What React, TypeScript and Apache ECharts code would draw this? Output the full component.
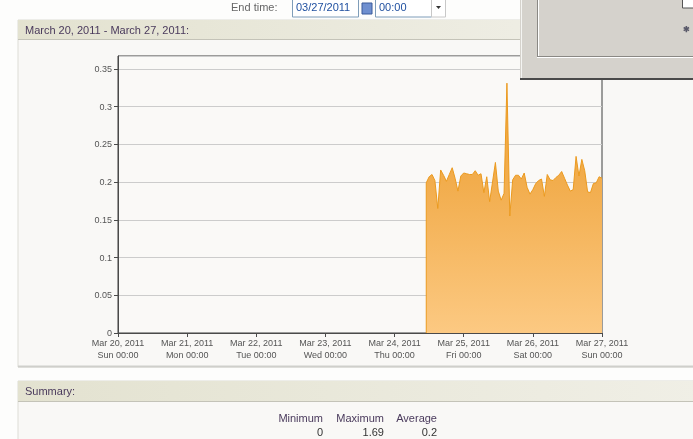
import React, { useEffect, useRef } from "react";
import * as echarts from "echarts";

const headerTitle = "March 20, 2011 - March 27, 2011:";
const summaryTitle = "Summary:";
const statNames = ["Minimum", "Maximum", "Average"];
const statValues = ["0", "1.69", "0.2"];

const xTickLabels = [
  "Mar 20, 2011\nSun 00:00",
  "Mar 21, 2011\nMon 00:00",
  "Mar 22, 2011\nTue 00:00",
  "Mar 23, 2011\nWed 00:00",
  "Mar 24, 2011\nThu 00:00",
  "Mar 25, 2011\nFri 00:00",
  "Mar 26, 2011\nSat 00:00",
  "Mar 27, 2011\nSun 00:00",
];

// hours since Mar 20, 2011 00:00
const hours = [
  107, 107, 108, 109, 110, 111, 112, 113, 114, 115, 116,
  117, 118, 119, 120, 121, 122, 123, 124, 125, 126,
  127, 128, 129, 130, 131, 132, 133, 134, 135, 136,
  137, 138, 139, 140, 141, 142, 143, 144, 145, 146,
  147, 148, 149, 150, 151, 152, 153, 154, 155, 156,
  157, 158, 159, 160, 161, 162, 163, 164, 165, 166, 167, 168,
];
const values = [
  0, 0.199, 0.207, 0.21, 0.202, 0.165, 0.216, 0.209, 0.201, 0.21, 0.219,
  0.205, 0.188, 0.208, 0.212, 0.211, 0.21, 0.21, 0.215, 0.209, 0.211,
  0.186, 0.207, 0.174, 0.2, 0.226, 0.188, 0.176, 0.185, 0.331, 0.155,
  0.203, 0.209, 0.209, 0.204, 0.212, 0.193, 0.184, 0.19, 0.198, 0.202,
  0.204, 0.181, 0.21, 0.203, 0.202, 0.206, 0.209, 0.214, 0.205, 0.196,
  0.188, 0.19, 0.234, 0.208, 0.23, 0.215, 0.187, 0.186, 0.198, 0.199, 0.207, 0.205,
];

const FONT = "Liberation Sans, Arial, sans-serif";

export default function App() {
  const ref = useRef<HTMLDivElement>(null);
  useEffect(() => {
    if (!ref.current) return;
    const chart = echarts.init(ref.current, null, { renderer: "svg" });
    const data = hours.map((h, i) => [h, values[i]]);
    const purple = "#4a3a5c";
    const statRight = [323, 384, 437];
    const graphics: any[] = [
      { type: "rect", z: -20, shape: { x: 0, y: 0, width: 693, height: 439 }, style: { fill: "#fdfdfc" } },
      { type: "rect", z: -19, shape: { x: 18, y: 20, width: 680, height: 347 }, style: { fill: "#f9f8f6", stroke: "#dddcd6", lineWidth: 1 } },
      {
        type: "rect", z: -18, shape: { x: 18, y: 20, width: 680, height: 19 },
        style: {
          fill: new echarts.graphic.LinearGradient(0, 0, 1, 0, [
            { offset: 0, color: "#e3e2d0" },
            { offset: 1, color: "#f2f1ea" },
          ]),
        },
      },
      { type: "line", z: -17, shape: { x1: 18, y1: 39.5, x2: 693, y2: 39.5 }, style: { stroke: "#c4c3b8", lineWidth: 1 } },
      { type: "line", z: -17, shape: { x1: 18, y1: 366.5, x2: 693, y2: 366.5 }, style: { stroke: "#cfcfcb", lineWidth: 2 } },
      { type: "text", z: -16, x: 25, y: 30, style: { text: headerTitle, font: `11px ${FONT}`, fill: purple, verticalAlign: "middle" } },
      { type: "rect", z: -19, shape: { x: 18, y: 381, width: 680, height: 60 }, style: { fill: "#f9f8f6", stroke: "#dddcd6", lineWidth: 1 } },
      {
        type: "rect", z: -18, shape: { x: 18, y: 381, width: 680, height: 20 },
        style: {
          fill: new echarts.graphic.LinearGradient(0, 0, 1, 0, [
            { offset: 0, color: "#e3e2d0" },
            { offset: 1, color: "#f0efe6" },
          ]),
        },
      },
      { type: "line", z: -17, shape: { x1: 18, y1: 401.5, x2: 693, y2: 401.5 }, style: { stroke: "#c4c3b8", lineWidth: 1 } },
      { type: "text", z: -16, x: 25, y: 391, style: { text: summaryTitle, font: `11px ${FONT}`, fill: purple, verticalAlign: "middle" } },
      ...statNames.map((s, i) => ({
        type: "text", z: -16, x: statRight[i], y: 418,
        style: { text: s, font: `11px ${FONT}`, fill: purple, align: "right", verticalAlign: "middle" },
      })),
      ...statValues.map((s, i) => ({
        type: "text", z: -16, x: statRight[i], y: 432,
        style: { text: s, font: `11px ${FONT}`, fill: "#333", align: "right", verticalAlign: "middle" },
      })),
      { type: "text", z: -16, x: 231, y: 7, style: { text: "End time:", font: `11px ${FONT}`, fill: "#666", verticalAlign: "middle" } },
      { type: "rect", z: -16, shape: { x: 292.5, y: -1, width: 66, height: 18 }, style: { fill: "#fff", stroke: "#7f9db9", lineWidth: 1 } },
      { type: "text", z: -15, x: 296, y: 7, style: { text: "03/27/2011", font: `11px ${FONT}`, fill: "#2050a0", verticalAlign: "middle" } },
      { type: "rect", z: -16, shape: { x: 362, y: 3, width: 10, height: 11 }, style: { fill: "#6f8fcf", stroke: "#3a5a9a", lineWidth: 1 } },
      { type: "rect", z: -16, shape: { x: 375.5, y: -1, width: 56, height: 18 }, style: { fill: "#fff", stroke: "#7f9db9", lineWidth: 1 } },
      { type: "text", z: -15, x: 379, y: 7, style: { text: "00:00", font: `11px ${FONT}`, fill: "#2050a0", verticalAlign: "middle" } },
      { type: "rect", z: -16, shape: { x: 431.5, y: -1, width: 14, height: 18 }, style: { fill: "#fff", stroke: "#c8c8c8", lineWidth: 1 } },
      { type: "polygon", z: -15, shape: { points: [[436, 6], [441, 6], [438.5, 9]] }, style: { fill: "#333" } },
      { type: "rect", z: 100, shape: { x: 520, y: -1, width: 174, height: 80 }, style: { fill: "#d5d2cc" } },
      { type: "line", z: 101, shape: { x1: 521.5, y1: 0, x2: 521.5, y2: 78 }, style: { stroke: "#f4f4f2", lineWidth: 1 } },
      { type: "line", z: 101, shape: { x1: 520, y1: 79, x2: 694, y2: 79 }, style: { stroke: "#4a4a4a", lineWidth: 2 } },
      { type: "line", z: 101, shape: { x1: 537.5, y1: 0, x2: 537.5, y2: 57 }, style: { stroke: "#8a8884", lineWidth: 1 } },
      { type: "line", z: 101, shape: { x1: 538.5, y1: 0, x2: 538.5, y2: 57 }, style: { stroke: "#ffffff", lineWidth: 1 } },
      { type: "line", z: 101, shape: { x1: 537, y1: 56.5, x2: 694, y2: 56.5 }, style: { stroke: "#8a8884", lineWidth: 1 } },
      { type: "line", z: 101, shape: { x1: 537, y1: 57.5, x2: 694, y2: 57.5 }, style: { stroke: "#ffffff", lineWidth: 1 } },
      { type: "rect", z: 101, shape: { x: 682.5, y: -1, width: 12, height: 9 }, style: { fill: "#ffffff", stroke: "#555", lineWidth: 1 } },
      { type: "text", z: 101, x: 686, y: 29, style: { text: "✱", font: `bold 8px ${FONT}`, fill: "#5a5a6a", align: "center", verticalAlign: "middle" } },
    ];

    chart.setOption({
      animation: false,
      backgroundColor: "transparent",
      graphic: graphics,
      grid: {
        left: 118,
        right: 91,
        top: 56,
        bottom: 106,
        show: true,
        borderColor: "#3f3f3f",
        borderWidth: 1,
        backgroundColor: "#faf9f7",
      },
      xAxis: {
        type: "value",
        min: 0,
        max: 168,
        interval: 24,
        axisLine: { show: true, lineStyle: { color: "#4a4a4a", width: 1 } },
        axisTick: { show: true, length: 4, lineStyle: { color: "#4a4a4a" } },
        splitLine: { show: false },
        axisLabel: {
          margin: 4,
          fontSize: 9,
          lineHeight: 12,
          color: "#555",
          fontFamily: FONT,
          showMinLabel: true,
          showMaxLabel: true,
          formatter: (v: number) => xTickLabels[Math.round(v / 24)] ?? "",
        },
      },
      yAxis: {
        type: "value",
        min: 0,
        max: 0.367,
        interval: 0.05,
        axisLine: { show: true, lineStyle: { color: "#4a4a4a", width: 1 } },
        axisTick: { show: true, length: 4, lineStyle: { color: "#4a4a4a" } },
        splitLine: { show: true, lineStyle: { color: "#cccccc", width: 1 } },
        axisLabel: {
          margin: 6,
          fontSize: 9,
          color: "#555",
          fontFamily: FONT,
          showMaxLabel: false,
          formatter: (v: number) => {
            const r = Math.round(v * 100) / 100;
            if (Math.abs(r * 20 - Math.round(r * 20)) > 1e-6) return "";
            return String(r);
          },
        },
      },
      series: [
        {
          type: "line",
          data,
          symbol: "none",
          lineStyle: { color: "#eb9a1f", width: 1 },
          areaStyle: {
            opacity: 1,
            color: new echarts.graphic.LinearGradient(0, 0, 0, 1, [
              { offset: 0, color: "#f0a63c" },
              { offset: 0.4, color: "#f2ad4d" },
              { offset: 1, color: "#fcc982" },
            ]),
          },
        },
      ],
    });
    return () => chart.dispose();
  }, []);
  return (
    <div
      ref={ref}
      style={{ position: "fixed", left: 0, top: 0, width: 693, height: 439 }}
    />
  );
}
